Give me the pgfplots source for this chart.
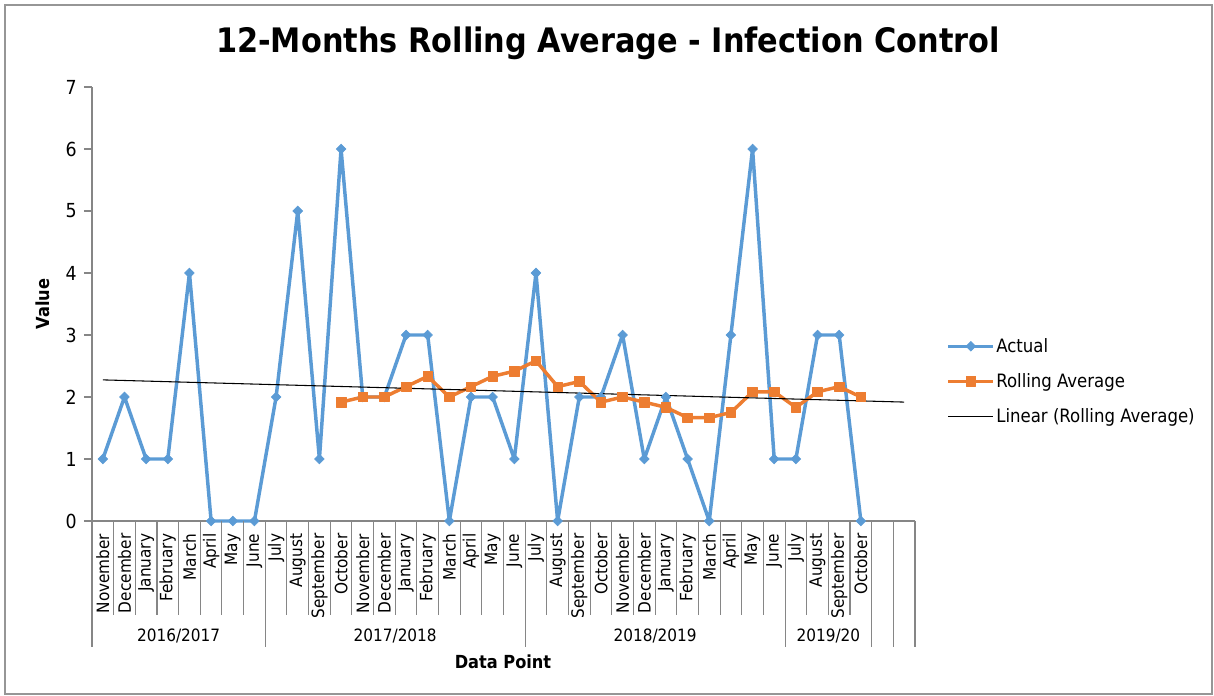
\documentclass[border=0pt]{standalone}
\usepackage{pgfplots}
\pgfplotsset{compat=1.18}
\usepackage{fontspec}
\setmainfont{DejaVu Sans Condensed}

\definecolor{actualblue}{RGB}{91,155,213}
\definecolor{rollorange}{RGB}{237,125,49}
\definecolor{axisgray}{RGB}{134,134,134}
\definecolor{framegray}{RGB}{150,150,150}

\newcommand{\fs}[1]{\fontsize{#1}{#1}\selectfont}

\begin{document}
\begin{tikzpicture}
\useasboundingbox (0,0) rectangle (910.5pt,522pt);
\draw[framegray, line width=1.1pt] (3.75pt,1.5pt) rectangle (909pt,518.25pt);

\node[font=\fs{25.3}\bfseries] at (456pt,489.75pt) {12-Months Rolling Average - Infection Control};
\node[font=\fs{13.5}\bfseries, rotate=90] at (32.25pt,294pt) {Value};
\node[font=\fs{13.5}\bfseries] at (377.25pt,25.5pt) {Data Point};

\begin{axis}[
  at={(69pt,131.25pt)}, anchor=south west,
  scale only axis, width=617.25pt, height=325.5pt,
  xmin=-0.5, xmax=37.5, ymin=0, ymax=7,
  axis x line*=bottom, axis y line*=left,
  axis line style={axisgray, line width=0.8pt, -},
  clip=false,
  ytick={0,1,2,3,4,5,6,7},
  tick align=outside,
  major tick length=6pt,
  ytick style={axisgray, line width=0.8pt},
  yticklabel style={font=\fs{14.5}, xshift=-2pt},
  /pgf/number format/assume math mode=true,
  xtick={0,...,35},
  xtick style={draw=none},
  xticklabels={November,December,January,February,March,April,May,June,
    July,August,September,October,November,December,January,February,March,April,May,June,
    July,August,September,October,November,December,January,February,March,April,May,June,
    July,August,September,October},
  xticklabel style={font=\fs{12.75}, rotate=90, anchor=east},
  legend style={draw=none, fill=none, font=\fs{13.8},
    at={(axis description cs:1.038,0.322)}, anchor=west,
    row sep=12.25pt, inner sep=0pt,
    nodes={inner sep=1pt}},
  legend cell align=left,
  legend image code/.code={%
    \draw[#1, mark repeat=2, mark phase=2]
      plot coordinates {(0pt,0pt) (16.9pt,0pt) (33.75pt,0pt)};},
]

% monthly counts
\addplot[actualblue, line width=2.6pt, line join=round, mark=diamond*, mark size=3.6pt,
  mark options={fill=actualblue, line width=0.5pt, line join=miter, xscale=1.33}] coordinates {
  (0,1) (1,2) (2,1) (3,1) (4,4) (5,0) (6,0) (7,0)
  (8,2) (9,5) (10,1) (11,6) (12,2) (13,2) (14,3) (15,3)
  (16,0) (17,2) (18,2) (19,1) (20,4) (21,0) (22,2) (23,2)
  (24,3) (25,1) (26,2) (27,1) (28,0) (29,3) (30,6) (31,1)
  (32,1) (33,3) (34,3) (35,0)};
\addlegendentry{Actual}

% 12-month rolling average
\addplot[rollorange, line width=2.6pt, line join=round, mark=square*, mark size=3.6pt,
  mark options={fill=rollorange, line width=0.5pt}] coordinates {
  (11,1.917) (12,2.000) (13,2.000) (14,2.167) (15,2.333) (16,2.000)
  (17,2.167) (18,2.333) (19,2.417) (20,2.583) (21,2.167) (22,2.250)
  (23,1.917) (24,2.000) (25,1.917) (26,1.833) (27,1.667) (28,1.667)
  (29,1.750) (30,2.083) (31,2.083) (32,1.833) (33,2.083) (34,2.167)
  (35,2.000)};
\addlegendentry{Rolling Average}

% linear trend of the rolling average
\addplot[black, line width=0.8pt, no marks] coordinates {(0,2.276) (37,1.918)};
\addlegendentry{Linear (Rolling Average)}

% category separators
\pgfplotsinvokeforeach{0,...,38}{
  \draw[axisgray, line width=0.8pt] (axis cs:#1-0.5,0) -- ++(0pt,-70.5pt);
}
% group separators
\pgfplotsinvokeforeach{-0.5,7.5,19.5,31.5,35.5,36.5,37.5}{
  \draw[axisgray, line width=0.8pt] (axis cs:#1,0) -- ++(0pt,-94.5pt);
}
% group labels
\node[font=\fs{12.75}] at ([yshift=-86.25pt]axis cs:3.5,0) {2016/2017};
\node[font=\fs{12.75}] at ([yshift=-86.25pt]axis cs:13.5,0) {2017/2018};
\node[font=\fs{12.75}] at ([yshift=-86.25pt]axis cs:25.5,0) {2018/2019};
\node[font=\fs{12.75}] at ([yshift=-86.25pt]axis cs:33.5,0) {2019/20};
\end{axis}
\end{tikzpicture}
\end{document}
